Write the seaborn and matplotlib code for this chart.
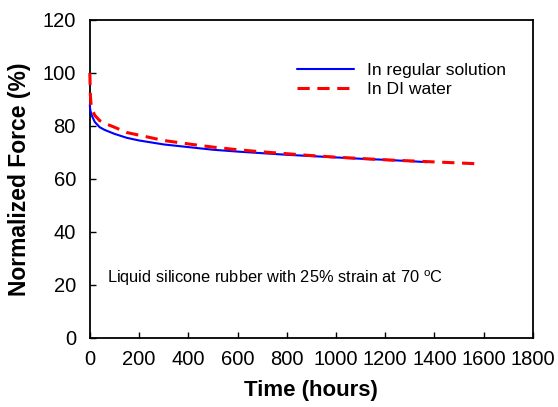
import numpy as np
import pandas as pd
import matplotlib
matplotlib.use("Agg")
import matplotlib.pyplot as plt
import seaborn as sns

# Data
time_regular = [0, 1, 3, 6, 10, 20, 40, 60, 100, 150, 200, 300, 400, 500, 600,
                700, 800, 900, 1000, 1100, 1200, 1300, 1370]
force_regular = [88, 86.5, 85.5, 84.5, 83.5, 81.5, 79.5, 78.5, 77, 75.5, 74.5, 73,
                 72, 71, 70.3, 69.7, 69.1, 68.6, 68.1, 67.6, 67.2, 66.7, 66.3]
time_di = [0, 2, 5, 10, 20, 40, 60, 100, 150, 200, 300, 400, 500, 600, 700,
           800, 900, 1000, 1100, 1200, 1300, 1400, 1500, 1580]
force_di = [100, 92, 88, 86, 84, 82, 81, 79.5, 77.5, 76.5, 74.5, 73.2, 72, 71,
            70.2, 69.5, 68.8, 68.2, 67.7, 67.2, 66.8, 66.4, 66, 65.7]

x_ticks = [0, 200, 400, 600, 800, 1000, 1200, 1400, 1600, 1800]
y_ticks = [0, 20, 40, 60, 80, 100, 120]

sns.set_style("white")
plt.rcParams["font.family"] = ["Liberation Sans", "DejaVu Sans"]
plt.rcParams["text.color"] = "black"
plt.rcParams["axes.labelcolor"] = "black"

df_reg = pd.DataFrame({"t": time_regular, "f": force_regular})
df_di = pd.DataFrame({"t": time_di, "f": force_di})

fig = plt.figure(figsize=(5.58, 4.07), dpi=100)
ax = fig.add_axes([0.161, 0.17, 0.794, 0.781])

sns.lineplot(data=df_reg, x="t", y="f", ax=ax, color="#0000ff", linewidth=1.5,
             label="In regular solution")
sns.lineplot(data=df_di, x="t", y="f", ax=ax, color="#ff0000", linewidth=2.2,
             linestyle=(0, (4, 2.5)), label="In DI water")
for ln in ax.lines:
    ln.set_clip_on(False)
    ln.set_zorder(3)

ax.set_xlim(0, 1800)
ax.set_ylim(0, 120)
ax.set_xticks(x_ticks)
ax.set_yticks(y_ticks)
ax.tick_params(direction="in", length=4, width=1, labelsize=14.5, colors="black",
               bottom=True, left=True)
ax.tick_params(axis="x", pad=9)
ax.tick_params(axis="y", pad=10)
for s in ax.spines.values():
    s.set_linewidth(1.3)
    s.set_color("black")

ax.set_xlabel("Time (hours)", fontsize=16, fontweight="bold", labelpad=8)
ax.set_ylabel("Normalized Force (%)", fontsize=16.5, fontweight="bold", labelpad=8)

ax.text(70, 22.5, "Liquid silicone rubber with 25% strain at 70 $^{\\mathregular{o}}$C",
        fontsize=11.8, va="center")

leg = ax.legend(loc="upper left", bbox_to_anchor=(0.431, 0.915), frameon=False,
                fontsize=12.6, handlelength=3.3, handletextpad=0.75, labelspacing=0.2)

fig.savefig("out.png", dpi=100)
